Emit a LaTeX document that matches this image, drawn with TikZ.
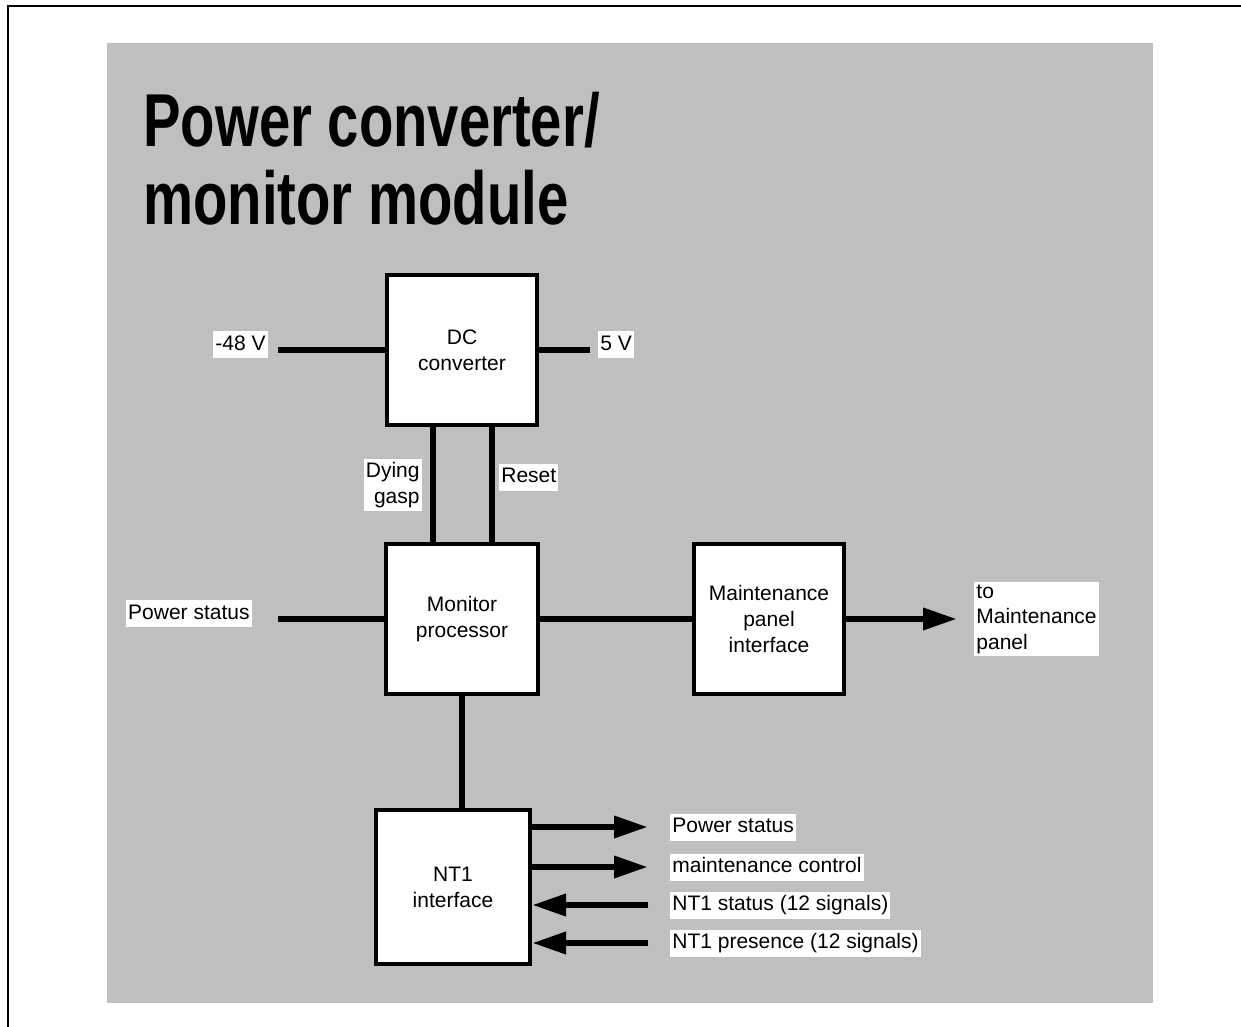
\documentclass[tikz,border=0pt]{standalone}
\usepackage{fontspec}
\setmainfont{Liberation Sans}
\newfontfamily\titlefont[FakeStretch=0.75]{Liberation Sans Bold}
\usepackage{tikz}
\usetikzlibrary{arrows.meta,positioning}
\definecolor{panelgray}{HTML}{BFBFBF}

\begin{document}
\begin{tikzpicture}[
  x=0.5pt, y=-0.5pt,
  block/.style = {rectangle, draw, fill=white, line width=2pt,
                  minimum width=75pt, minimum height=75pt, inner sep=0pt,
                  align=center, font=\fontsize{10.5}{13}\selectfont},
  tag/.style   = {fill=white, inner xsep=1pt, inner ysep=0.5pt,
                  text height=9pt, text depth=3.5pt,
                  font=\fontsize{10.5}{13}\selectfont},
  tagm/.style  = {fill=white, inner xsep=1pt, inner ysep=1.5pt,
                  font=\fontsize{10.5}{12.75}\selectfont},
  title/.style = {align=left, inner sep=0pt,
                  font=\titlefont\fontsize{37.5}{39}\selectfont},
  wire/.style  = {line width=3.3pt},
  arr/.style   = {wire, -{Triangle[length=17pt,width=10.5pt]}},
]
  \useasboundingbox (0,0) rectangle (1241,1027);
  \fill[panelgray] (107,43) rectangle (1153,1003);
  \draw[line width=1pt] (8,1027) -- (8,6) -- (1241,6);

  \node[title, anchor=base west] (title) at (143,225)
    {Power converter/\\monitor module};

  % blocks
  \node[block] (dcconv)  at (462,350) {DC\\converter};
  \node[block, minimum width=76pt] (monproc) at (462,619) {Monitor\\processor};
  \node[block] (maintif) at (769,619) {Maintenance\\panel\\interface};
  \node[block, minimum size=77pt] (ntone) at (453,887) {NT1\\interface};

  % free ends
  \coordinate (vin)     at (278,350);
  \coordinate (vout)    at (590,350);
  \coordinate (dgx)     at (433,485);
  \coordinate (rsx)     at (492,477);
  \coordinate (pstat)   at (278,619);
  \coordinate (tomaint) at (957,619);
  \coordinate (pwrout)  at (648,827);
  \coordinate (mctl)    at (648,867);
  \coordinate (ntstat)  at (648,905);
  \coordinate (ntpres)  at (648,943);

  \draw[wire] (vin) -- (dcconv);
  \draw[wire] (dcconv) -- (vout);
  \draw[wire] (dcconv.south -| dgx) -- (monproc.north -| dgx);
  \draw[wire] (dcconv.south -| rsx) -- (monproc.north -| rsx);
  \draw[wire] (pstat) -- (monproc);
  \draw[wire] (monproc) -- (maintif);
  \draw[wire] (monproc.south) -- (monproc.south |- ntone.north);
  \draw[arr]  (maintif) -- (tomaint);

  \draw[arr] (ntone.east |- pwrout) -- (pwrout);
  \draw[arr] (ntone.east |- mctl) -- (mctl);
  \draw[arr] (ntstat) -- (ntone.east |- ntstat);
  \draw[arr] (ntpres) -- (ntone.east |- ntpres);

  % labels
  \node[tag, anchor=base east] at ([xshift=-5pt]vin) {-48 V};
  \node[tag, anchor=base west] at ([xshift=4pt]vout) {5 V};
  \node[tagm, anchor=east, align=right] at ([xshift=-5.5pt]dgx) {Dying\\gasp};
  \node[tag, anchor=west] at ([xshift=3.5pt]rsx) {Reset};
  \node[tag, anchor=base east] at ([xshift=-13pt]pstat) {Power status};
  \node[tagm, anchor=west, align=left] at ([xshift=8.5pt]tomaint)
    {to\\Maintenance\\panel};
  \node[tag, right=11pt of pwrout] {Power status};
  \node[tag, right=11pt of mctl]   {maintenance control};
  \node[tag, right=11pt of ntstat] {NT1 status (12 signals)};
  \node[tag, right=11pt of ntpres] {NT1 presence (12 signals)};
\end{tikzpicture}
\end{document}
